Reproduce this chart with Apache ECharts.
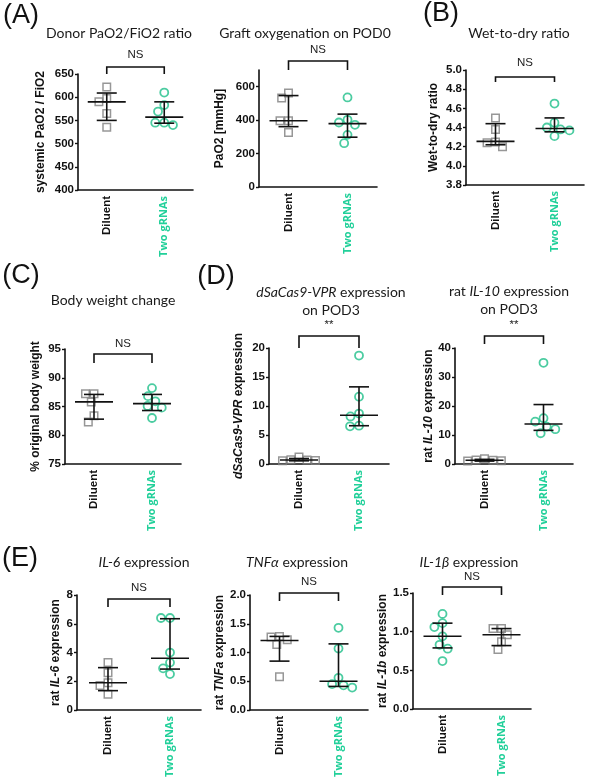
<!DOCTYPE html>
<html><head><meta charset="utf-8">
<script src="https://cdn.jsdelivr.net/npm/echarts@6/dist/echarts.min.js"></script>
<style>html,body{margin:0;padding:0;background:#fff}#c{width:589px;height:780px}</style>
</head><body><div id="c"></div>
<script>
// ---------- DATA ----------
const categories = ['Diluent', 'Two gRNAs'];

// (A) Donor PaO2/FiO2 ratio
const donorRatioDiluent = [622, 597, 590, 565, 535];
const donorRatioTwo = [610, 583, 569, 545, 545, 540];
const donorRatioMedian = [590, 557];
const donorRatioQ1 = [550, 544];
const donorRatioQ3 = [609, 590];

// (A) Graft oxygenation on POD0
const graftPaO2Diluent = [562, 532, 396, 396, 326];
const graftPaO2Two = [536, 402, 386, 372, 312, 262];
const graftPaO2Median = [396, 379];
const graftPaO2Q1 = [361, 298];
const graftPaO2Q3 = [547, 436];

// (B) Wet-to-dry ratio
const wetDryDiluent = [4.50, 4.38, 4.25, 4.24, 4.20];
const wetDryTwo = [4.65, 4.45, 4.40, 4.38, 4.37, 4.31];
const wetDryMedian = [4.255, 4.39];
const wetDryQ1 = [4.22, 4.355];
const wetDryQ3 = [4.44, 4.50];

// (C) Body weight change
const bodyWeightDiluent = [87.2, 87.2, 85.8, 83.4, 82.3];
const bodyWeightTwo = [88.2, 86.8, 85.9, 85.1, 84.8, 83.0];
const bodyWeightMedian = [85.8, 85.5];
const bodyWeightQ1 = [82.8, 84.3];
const bodyWeightQ3 = [87.1, 87.1];

// (D) dSaCas9-VPR expression on POD3
const cas9Diluent = [1.2, 0.75, 0.7, 0.6, 0.55];
const cas9Two = [18.7, 11.6, 8.7, 8.2, 6.6, 6.5];
const cas9Median = [0.7, 8.4];
const cas9Q1 = [0.55, 6.6];
const cas9Q3 = [0.95, 13.3];

// (D) rat IL-10 expression on POD3
const il10Diluent = [1.8, 1.4, 1.3, 1.1, 1.0];
const il10Two = [34.9, 15.8, 14.6, 12.9, 12.0, 10.6];
const il10Median = [1.3, 13.8];
const il10Q1 = [1.0, 11.6];
const il10Q3 = [1.6, 20.5];

// (E) IL-6 expression
const il6Diluent = [3.3, 2.6, 1.9, 1.7, 1.1];
const il6Two = [6.4, 6.4, 4.0, 3.3, 2.9, 2.5];
const il6Median = [1.9, 3.6];
const il6Q1 = [1.35, 2.85];
const il6Q3 = [2.95, 6.35];

// (E) TNFa expression
const tnfDiluent = [1.28, 1.27, 1.22, 1.14, 0.58];
const tnfTwo = [1.43, 1.07, 0.56, 0.45, 0.43, 0.39];
const tnfMedian = [1.21, 0.50];
const tnfQ1 = [0.85, 0.41];
const tnfQ3 = [1.28, 1.15];

// (E) IL-1b expression
const il1bDiluent = [1.23, 1.11, 1.06, 0.94, 0.83, 0.78, 0.62];
const il1bTwo = [1.04, 1.04, 0.96, 0.87, 0.77];
const il1bMedian = [0.94, 0.96];
const il1bQ1 = [0.79, 0.82];
const il1bQ3 = [1.11, 1.04];

// ---------- LAYOUT / STYLE ----------
const GRAY = '#7d7d7d', GREEN = '#1fbf8a', GREEN_TXT = '#22d09a', INK = '#111';
const AX_FONT = 'Liberation Sans, Arial, sans-serif';
const TITLE_FONT = 'Lato, Open Sans, sans-serif';

const panels = [
  { dil: donorRatioDiluent, two: donorRatioTwo, med: donorRatioMedian, q1: donorRatioQ1, q3: donorRatioQ3,
    grid: {left: 78, top: 74, width: 115, height: 116}, y: {min: 400, max: 650, interval: 50},
    yName: '{b|systemic PaO2 / FiO2}', nameGap: 31, sig: 'NS', br: [-7, 0, -19] },
  { dil: graftPaO2Diluent, two: graftPaO2Two, med: graftPaO2Median, q1: graftPaO2Q1, q3: graftPaO2Q3,
    grid: {left: 259, top: 70, width: 118, height: 117}, y: {min: 0, max: 700, interval: 200, ticks: [0, 200, 400, 600]},
    yName: '{b|PaO2 [mmHg]}', nameGap: 33, sig: 'NS', br: [-9, 0, -20] },
  { dil: wetDryDiluent, two: wetDryTwo, med: wetDryMedian, q1: wetDryQ1, q3: wetDryQ3,
    grid: {left: 466, top: 70, width: 118, height: 115}, y: {min: 3.8, max: 5.0, interval: 0.2, dec: 1},
    yName: '{b|Wet-to-dry ratio}', nameGap: 26, sig: 'NS', br: [7, 12, -7] },
  { dil: bodyWeightDiluent, two: bodyWeightTwo, med: bodyWeightMedian, q1: bodyWeightQ1, q3: bodyWeightQ3,
    grid: {left: 65, top: 349, width: 116, height: 115}, y: {min: 75, max: 95, interval: 5},
    yName: '{b|% original body weight}', nameGap: 23, sig: 'NS', br: [5, 14, -5] },
  { dil: cas9Diluent, two: cas9Two, med: cas9Median, q1: cas9Q1, q3: cas9Q3,
    grid: {left: 269, top: 348, width: 120, height: 116}, y: {min: 0, max: 20, interval: 5},
    yName: '{bi|dSaCas9-VPR}{b| expression}', nameGap: 24, sig: '**', br: [-12, 0, -23] },
  { dil: il10Diluent, two: il10Two, med: il10Median, q1: il10Q1, q3: il10Q3,
    grid: {left: 455, top: 348, width: 118, height: 116}, y: {min: 0, max: 40, interval: 10},
    yName: '{b|rat }{bi|IL-10}{b| expression}', nameGap: 18, sig: '**', br: [-12, -4, -23] },
  { dil: il6Diluent, two: il6Two, med: il6Median, q1: il6Q1, q3: il6Q3,
    grid: {left: 77, top: 595, width: 124, height: 116}, y: {min: 0, max: 8, interval: 2},
    yName: '{b|rat }{bi|IL-6}{b| expression}', nameGap: 15, sig: 'NS', br: [4, 12, -7] },
  { dil: tnfDiluent, two: tnfTwo, med: tnfMedian, q1: tnfQ1, q3: tnfQ3,
    grid: {left: 250, top: 595, width: 118, height: 115}, y: {min: 0, max: 2, interval: 0.5, dec: 1},
    yName: '{b|rat }{bi|TNFa}{b| expression}', nameGap: 22, sig: 'NS', br: [-2, 6, -13] },
  { dil: il1bDiluent, two: il1bTwo, med: il1bMedian, q1: il1bQ1, q3: il1bQ3, swap: true,
    grid: {left: 413, top: 593, width: 118, height: 116}, y: {min: 0, max: 1.5, interval: 0.5, dec: 1},
    yName: '{b|rat }{bi|IL-1b}{b| expression}', nameGap: 20, sig: 'NS', br: [-6, 2, -16] }
];

const titles = [
  {text: '{n|Donor PaO2/FiO2 ratio}', x: 119, y: 33},
  {text: '{n|Graft oxygenation on POD0}', x: 305, y: 33},
  {text: '{n|Wet-to-dry ratio}', x: 519, y: 33},
  {text: '{n|Body weight change}', x: 113, y: 300},
  {text: '{i|dSaCas9-VPR}{n| expression}\n{n|on POD3}', x: 331, y: 301},
  {text: '{n|rat }{i|IL-10}{n| expression}\n{n|on POD3}', x: 509, y: 300},
  {text: '{i|IL-6}{n| expression}', x: 144, y: 562},
  {text: '{i|TNFα}{n| expression}', x: 297, y: 562},
  {text: '{i|IL-1β}{n| expression}', x: 469, y: 562}
];
const letters = [
  {text: '(A)', x: 21, y: 16}, {text: '(B)', x: 441, y: 14}, {text: '(C)', x: 21, y: 276},
  {text: '(D)', x: 216, y: 277}, {text: '(E)', x: 20, y: 559}
];

// ---------- BUILD ----------
const line = (x1, y1, x2, y2) => ({type: 'line', shape: {x1, y1, x2, y2}, style: {stroke: INK, lineWidth: 1.6}});

const option = {
  animation: false,
  backgroundColor: '#fff',
  grid: [], xAxis: [], yAxis: [], series: [],
  graphic: []
};

const squareStyle = {symbol: 'rect', symbolSize: 7.5, itemStyle: {color: 'rgba(255,255,255,0)', borderColor: GRAY, borderWidth: 1.5}};
const circleStyle = {symbol: 'circle', symbolSize: 8, itemStyle: {color: 'rgba(255,255,255,0)', borderColor: GREEN, borderWidth: 1.8}};

panels.forEach((p, i) => {
  option.grid.push(p.grid);
  option.xAxis.push({
    type: 'category', gridIndex: i, data: categories, boundaryGap: true,
    jitter: 34, jitterOverlap: false, jitterMargin: 1,
    axisLine: {lineStyle: {color: INK, width: 1.6}},
    axisTick: {alignWithLabel: true, length: 4, lineStyle: {color: INK, width: 1.4}},
    axisLabel: {
      rotate: 90, margin: 6, interval: 0,
      formatter: (v, idx) => idx === 0 ? '{d|' + v + '}' : '{g|' + v + '}',
      rich: {
        d: {fontFamily: AX_FONT, fontWeight: 'bold', fontSize: 11.5, color: INK},
        g: {fontFamily: 'Open Sans, sans-serif', fontWeight: 'bold', fontSize: 11, color: GREEN_TXT}
      }
    }
  });
  const ya = {
    type: 'value', gridIndex: i, min: p.y.min, max: p.y.max, interval: p.y.interval,
    axisLine: {show: true, lineStyle: {color: INK, width: 1.6}},
    axisTick: {show: true, length: 3, lineStyle: {color: INK, width: 1.4}},
    splitLine: {show: false},
    axisLabel: {margin: 4, fontFamily: AX_FONT, fontWeight: 'bold', fontSize: 11.5, color: INK,
      formatter: v => p.y.dec ? Number(v).toFixed(p.y.dec) : String(Math.round(v))},
    name: p.yName, nameLocation: 'middle', nameGap: p.nameGap,
    nameTextStyle: {rich: {
      b: {fontFamily: AX_FONT, fontWeight: 'bold', fontSize: 12, color: INK},
      bi: {fontFamily: AX_FONT, fontWeight: 'bold', fontStyle: 'italic', fontSize: 12, color: INK}
    }}
  };
  if (p.y.ticks) {
    ya.axisLabel.customValues = p.y.ticks;
    ya.axisTick.customValues = p.y.ticks;
  }
  option.yAxis.push(ya);

  const dilStyle = p.swap ? circleStyle : squareStyle;
  const twoStyle = p.swap ? squareStyle : circleStyle;
  option.series.push(Object.assign({type: 'scatter', xAxisIndex: i, yAxisIndex: i, z: 2,
    data: p.dil.map(v => [categories[0], v])}, JSON.parse(JSON.stringify(dilStyle))));
  option.series.push(Object.assign({type: 'scatter', xAxisIndex: i, yAxisIndex: i, z: 2,
    data: p.two.map(v => [categories[1], v])}, JSON.parse(JSON.stringify(twoStyle))));

  // median + interquartile range
  option.series.push({
    type: 'custom', xAxisIndex: i, yAxisIndex: i, z: 3, silent: true,
    dimensions: ['cat', 'med', 'q1', 'q3'], encode: {x: 0, y: [1, 2, 3]},
    data: categories.map((c, k) => [k, p.med[k], p.q1[k], p.q3[k]]),
    renderItem: (params, api) => {
      const k = api.value(0);
      const pm = api.coord([k, api.value(1)]);
      const pl = api.coord([k, api.value(2)]);
      const ph = api.coord([k, api.value(3)]);
      const x = pm[0], w = 19, c = 10;
      return {type: 'group', children: [
        line(x - w, pm[1], x + w, pm[1]),
        line(x, ph[1], x, pl[1]),
        line(x - c, ph[1], x + c, ph[1]),
        line(x - c, pl[1], x + c, pl[1])
      ]};
    }
  });

  // significance bracket
  option.series.push({
    type: 'custom', xAxisIndex: i, yAxisIndex: i, z: 3, silent: true, clip: false,
    data: [[0, p.y.min]],
    renderItem: (params, api) => {
      const a = api.coord([0, p.y.min]), b = api.coord([1, p.y.min]);
      const top = params.coordSys.y;
      const yb = top + p.br[0], yt = top + p.br[1], ytx = top + p.br[2];
      return {type: 'group', children: [
        {type: 'polyline', shape: {points: [[a[0], yt], [a[0], yb], [b[0], yb], [b[0], yt]]},
          style: {stroke: INK, lineWidth: 1.6, fill: null}},
        {type: 'text', style: {text: p.sig, x: (a[0] + b[0]) / 2, y: ytx, align: 'center', verticalAlign: 'middle',
          fontFamily: AX_FONT, fontSize: 11.5, fill: '#222'}}
      ]};
    }
  });
});

titles.forEach(t => {
  option.graphic.push({type: 'text', x: t.x, y: t.y, silent: true, style: {
    text: t.text, align: 'center', verticalAlign: 'middle', lineHeight: 18,
    rich: {
      n: {fontFamily: TITLE_FONT, fontSize: 14, fill: '#1a1a1a', lineHeight: 18},
      i: {fontFamily: TITLE_FONT, fontSize: 14, fontStyle: 'italic', fill: '#1a1a1a', lineHeight: 18}
    }
  }});
});
letters.forEach(t => {
  option.graphic.push({type: 'text', x: t.x, y: t.y, silent: true, style: {
    text: t.text, align: 'center', verticalAlign: 'middle', fontFamily: AX_FONT, fontSize: 27, fill: '#111'
  }});
});

const chart = echarts.init(document.getElementById('c'), null, {renderer: 'canvas'});
chart.setOption(option);
</script>
</body></html>
